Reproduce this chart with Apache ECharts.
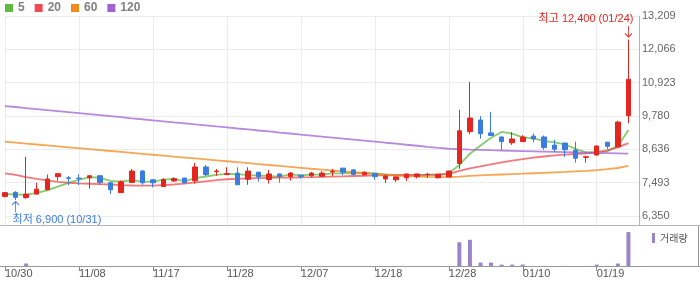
<!DOCTYPE html>
<html><head><meta charset="utf-8">
<script src="https://cdn.jsdelivr.net/npm/echarts@6/dist/echarts.min.js"></script>
<style>html,body{margin:0;padding:0;background:#fff;}#c{width:700px;height:289px;}</style>
</head><body><div id="c"></div>
<script>
// ---- data ----
const dates = ['10/30','10/31','11/01','11/02','11/03','11/06','11/07','11/08','11/09','11/10',
  '11/13','11/14','11/15','11/16','11/17','11/20','11/21','11/22','11/23','11/24',
  '11/27','11/28','11/29','11/30','12/01','12/04','12/05','12/06','12/07','12/08',
  '12/11','12/12','12/13','12/14','12/15','12/18','12/19','12/20','12/21','12/22',
  '12/26','12/27','12/28','01/02','01/03','01/04','01/05','01/08','01/09','01/10',
  '01/11','01/12','01/15','01/16','01/17','01/18','01/19','01/22','01/23','01/24'];
const opens  = [7020,7160,6980,7100,7250,7700,7660,7650,7660,7730, 7490,7150,7500,7890,7590,7360,7550,7650,7560,8030,
  7870,7770,7820,7610,7850,7600,7790,7700,7750,7730, 7710,7860,7990,7930,7760,7810,7620,7590,7660,7700,
  7770,7660,7690,8150,9240,9640,9200,9060,8860,8900, 9090,9060,8780,8850,8610,8360,8440,8880,8720,9790];
const closes = [7150,6990,7100,7270,7620,7800,7640,7630,7730,7500, 7250,7520,7890,7490,7490,7600,7630,7490,8030,7770,
  7890,7800,7420,7890,7690,7790,7700,7820,7700,7820, 7820,7880,7850,7770,7850,7700,7720,7690,7790,7790,
  7780,7780,7890,9270,9710,9170,9110,8900,8990,9060, 8990,8700,8640,8620,8330,8380,8750,8740,9570,11040];
const lows   = [6990,6900,6940,7090,7230,7560,7410,7410,7290,7410, 7100,7140,7490,7420,7330,7350,7520,7460,7460,7720,
  7730,7750,7410,7420,7530,7460,7490,7560,7630,7680, 7700,7710,7750,7760,7740,7590,7480,7520,7550,7640,
  7660,7640,7680,7970,9150,9000,9100,8610,8790,8890, 8880,8620,8550,8380,8180,8180,8420,8640,8710,9530];
const highs  = [7170,7200,8380,7490,7770,7820,7720,7780,7740,7740, 7500,7570,7960,7930,7600,7650,7680,7660,8170,8100,
  7960,8020,8020,8020,7860,7930,7800,7860,7760,7860, 7890,7960,8000,7960,7870,7820,7760,7700,7800,7800,
  7830,7790,7900,9985,10945,9780,9920,9070,9230,9120, 9180,9110,8960,8860,8900,8420,8760,8890,9620,12400];
const volumes = [1,1,80,2,2,1,1,1,1,1, 1,1,1,1,1,1,1,1,2,1, 1,1,1,1,1,1,1,1,1,1,
  1,1,1,1,1,1,1,1,1,1, 1,1,2,770,850,110,110,45,45,45, 3,3,2,3,2,2,45,3,80,1100];
const ma5   = [7100,7090,7075,7140,7226,7356,7486,7592,7684,7660, 7550,7526,7578,7530,7528,7598,7620,7540,7648,7704,
  7762,7796,7782,7754,7738,7718,7698,7778,7740,7766, 7772,7808,7814,7828,7834,7810,7778,7746,7750,7738,
  7754,7766,7806,8102,8486,8764,9030,9232,9176,9046, 9010,8928,8876,8802,8656,8534,8544,8564,8754,9296];
const ma20  = [7814,7760,7680,7620,7570,7520,7490,7470,7455,7445, 7430,7410,7395,7390,7390,7410,7430,7460,7500,7540,
  7580,7610,7625,7640,7650,7658,7665,7670,7676,7682, 7690,7700,7710,7720,7730,7740,7745,7750,7755,7760,
  7765,7772,7785,7900,7980,8050,8120,8185,8245,8300, 8350,8390,8425,8455,8475,8495,8530,8600,8700,8850];
const ma60  = [8898,8866,8834,8802,8770,8738,8706,8674,8642,8610, 8578,8546,8514,8482,8450,8418,8386,8354,8322,8290,
  8258,8226,8194,8162,8130,8098,8066,8034,8002,7970, 7940,7910,7880,7850,7820,7790,7762,7738,7718,7700,
  7688,7680,7682,7700,7725,7742,7757,7772,7786,7800, 7815,7830,7845,7860,7878,7895,7920,7955,7995,8065];
const ma120 = [10120,10088,10050,10018,9980,9948,9910,9878,9840,9808, 9772,9738,9700,9668,9632,9598,9560,9528,9492,9458,
  9422,9388,9350,9318,9282,9248,9210,9178,9142,9108, 9072,9038,9000,8968,8932,8898,8862,8828,8792,8758,
  8722,8688,8655,8640,8628,8617,8606,8596,8586,8576, 8566,8556,8546,8537,8528,8519,8510,8502,8495,8488];
const priceTicks = [6350,7493,8636,9780,10923,12066,13209];
const xTickLabels = ['10/30','11/08','11/17','11/28','12/07','12/18','12/28','01/10','01/19'];
const maNames = ['5','20','60','120'];
const volName = '거래량';

// ---- chart ----
const RED = '#e3261f', BLUE = '#3a7ddf';
const FONT = '"Liberation Sans", Arial, "Noto Sans CJK KR", sans-serif';
const fmt = v => Math.round(v).toLocaleString('en-US');
const cats = dates.concat(['']);
const isTick = (i) => xTickLabels.indexOf(cats[i]) >= 0;
const candle = dates.map((d, i) => [opens[i], closes[i], lows[i], highs[i]]);
const maxIdx = highs.indexOf(Math.max.apply(null, highs));
const minIdx = lows.indexOf(Math.min.apply(null, lows));
const maColors = ['#5cbb3f', '#ef4b4f', '#f38a1d', '#a062d0'];
const maData = [ma5, ma20, ma60, ma120];

const chart = echarts.init(document.getElementById('c'));
chart.setOption({
  animation: false,
  textStyle: { fontFamily: FONT },
  legend: [
    { data: maNames, left: 5, top: 2, icon: 'rect', itemWidth: 8, itemHeight: 8, itemGap: 10,
      padding: 0, selectedMode: false,
      textStyle: { fontSize: 12, fontWeight: 'bold', color: '#808080', fontFamily: FONT } },
    { data: [volName], left: 652, top: 233, icon: 'rect', itemWidth: 3, itemHeight: 10,
      padding: 0, selectedMode: false,
      textStyle: { fontSize: 10, color: '#555', fontFamily: '"Noto Sans CJK KR", sans-serif' } }
  ],
  grid: [
    { left: 5, right: 61, top: 16, height: 209 },
    { left: 5, right: 61, top: 229, height: 37 }
  ],
  xAxis: [
    { type: 'category', gridIndex: 0, data: cats, boundaryGap: false,
      axisLine: { show: false }, axisTick: { show: false }, axisLabel: { show: false },
      splitLine: { show: true, interval: (i) => isTick(i), lineStyle: { color: '#ececec' } } },
    { type: 'category', gridIndex: 1, data: cats, boundaryGap: false,
      axisLine: { show: false },
      axisTick: { show: true, interval: (i) => isTick(i), length: 5, lineStyle: { color: '#888' } },
      axisLabel: { interval: (i) => isTick(i), align: 'left', margin: 2, fontSize: 11, color: '#555', fontFamily: FONT },
      splitLine: { show: false } }
  ],
  yAxis: [
    { type: 'value', gridIndex: 0, position: 'right', min: 6040, max: 13209,
      axisLine: { show: false },
      axisTick: { show: false, customValues: priceTicks },
      axisLabel: { customValues: priceTicks, formatter: (v) => fmt(v), color: '#666', fontSize: 11, margin: 3, fontFamily: FONT },
      splitLine: { show: true, lineStyle: { color: '#ececec' } } },
    { type: 'value', gridIndex: 1, min: 0, max: 1200, show: false, splitLine: { show: false } }
  ],
  series: [
    ...maNames.map((n, k) => ({
      name: n, type: 'line', xAxisIndex: 0, yAxisIndex: 0, data: maData[k],
      symbol: 'none', color: maColors[k], z: 2,
      lineStyle: { width: 1.8, opacity: 0.75 }
    })),
    { name: 'price', type: 'candlestick', xAxisIndex: 0, yAxisIndex: 0, data: candle, barWidth: 5, z: 3,
      itemStyle: { color: RED, color0: BLUE, borderColor: RED, borderColor0: BLUE, borderWidth: 1 },
      markPoint: {
        silent: true, animation: false,
        data: [
          { coord: [dates[maxIdx], highs[maxIdx]], symbol: 'path://M5,0 L5,12 M1,8 L5,12 L9,8',
            symbolSize: [7, 11], symbolOffset: [0, -8],
            itemStyle: { color: 'rgba(0,0,0,0)', borderColor: RED, borderWidth: 1 },
            label: { show: true, position: 'top', distance: 1, align: 'right', offset: [5, 0],
              formatter: '최고 ' + fmt(highs[maxIdx]) + ' (' + dates[maxIdx] + ')',
              color: RED, fontSize: 11, fontFamily: FONT } },
          { coord: [dates[minIdx], lows[minIdx]], symbol: 'path://M5,12 L5,0 M1,4 L5,0 L9,4',
            symbolSize: [7, 11], symbolOffset: [0, 7],
            itemStyle: { color: 'rgba(0,0,0,0)', borderColor: BLUE, borderWidth: 1 },
            label: { show: true, position: 'bottom', distance: 1, align: 'left', offset: [-3, 0],
              formatter: '최저 ' + fmt(lows[minIdx]) + ' (' + dates[minIdx] + ')',
              color: BLUE, fontSize: 11, fontFamily: FONT } }
        ]
      } },
    { name: volName, type: 'bar', xAxisIndex: 1, yAxisIndex: 1, data: volumes, barWidth: 4,
      color: '#9a84c9', itemStyle: { color: '#9a84c9' } }
  ],
  graphic: [
    { type: 'line', shape: { x1: 0, y1: 225.5, x2: 700, y2: 225.5 }, style: { stroke: '#b5b5b5', lineWidth: 1 }, z: 10 },
    { type: 'line', shape: { x1: 639.5, y1: 16, x2: 639.5, y2: 225 }, style: { stroke: '#b5b5b5', lineWidth: 1 }, z: 10 },
    { type: 'line', shape: { x1: 0, y1: 266.5, x2: 700, y2: 266.5 }, style: { stroke: '#999', lineWidth: 1 }, z: 10 },
    { type: 'line', shape: { x1: 698.5, y1: 226, x2: 698.5, y2: 266 }, style: { stroke: '#999', lineWidth: 1 }, z: 10 }
  ]
});
</script></body></html>
